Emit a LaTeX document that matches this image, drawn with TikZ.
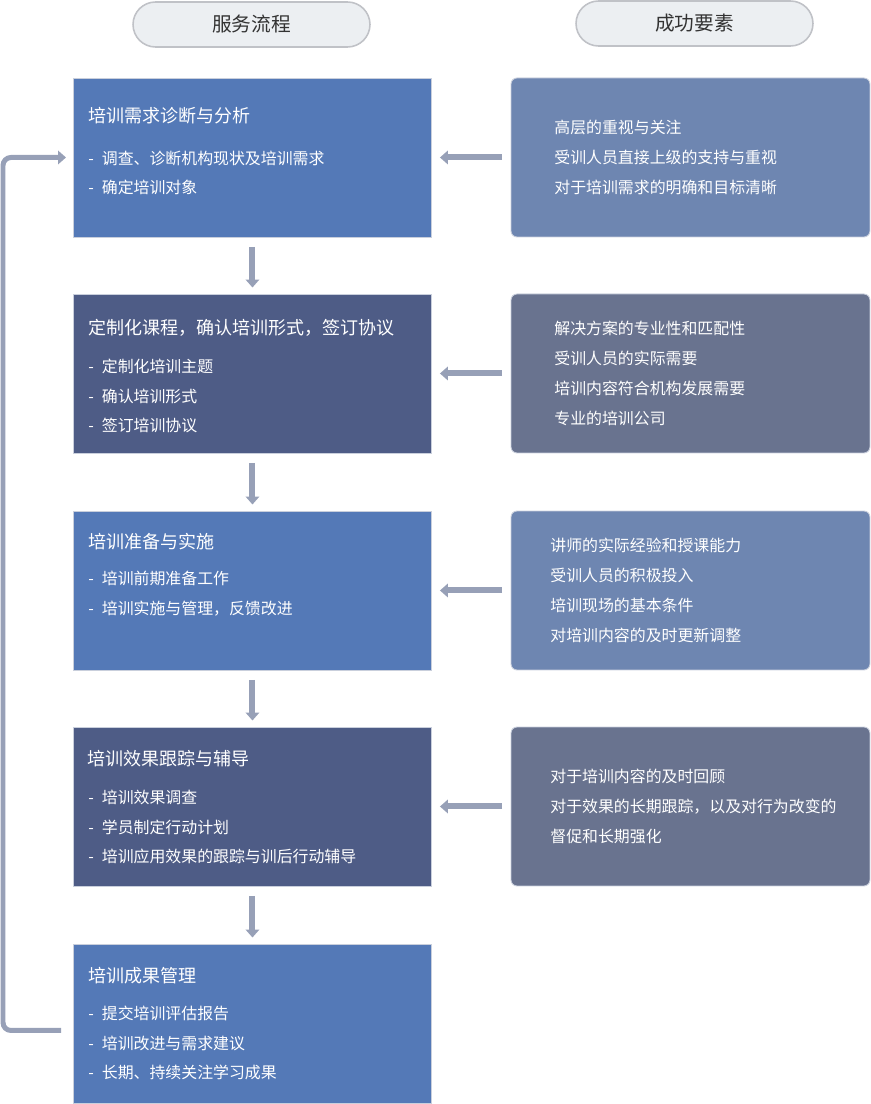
\documentclass[tikz,border=0pt]{standalone}
\usepackage{fontspec}
\newfontfamily\cjk{Noto Sans CJK SC}
\usetikzlibrary{arrows.meta, positioning, calc}
\definecolor{stepblue}{HTML}{5479B7}
\definecolor{stepnavy}{HTML}{4E5C86}
\definecolor{keyblue}{HTML}{6E86B1}
\definecolor{keynavy}{HTML}{69738F}
\definecolor{arrowgray}{HTML}{97A0B7}
\definecolor{edgegray}{HTML}{C9CFDC}
\definecolor{pillfill}{HTML}{ECEFF2}
\definecolor{pilledge}{HTML}{C0C2C7}
\newcommand{\dash}{-\hspace{1.6mm}}

\begin{document}
\begin{tikzpicture}[x=0.02cm, y=-0.02cm,
  box/.style={rectangle, draw=edgegray, line width=0.5pt, minimum width=7.18cm,
    minimum height=3.18cm, inner sep=0pt, outer sep=0pt, anchor=north west},
  keybox/.style={box, rounded corners=0.12cm},
  pill/.style={rectangle, draw=pilledge, fill=pillfill, line width=0.9pt,
    rounded corners=0.45cm, minimum width=4.74cm, minimum height=0.9cm,
    font=\cjk\fontsize{11.2pt}{13pt}\selectfont, text=black!80},
  ttl/.style={anchor=west, inner sep=0pt, text=white, font=\cjk\fontsize{10.25pt}{12pt}\selectfont},
  txt/.style={anchor=west, inner sep=0pt, align=left, text=white,
    font=\cjk\fontsize{9.05pt}{17pt}\selectfont},
  arr/.style={draw=arrowgray, line width=0.12cm, -{Triangle[length=0.16cm,width=0.27cm]}}]
\useasboundingbox (0,0) rectangle (871,1104);

% headers
\node[pill] (hflow) at (251.5,24.5) {\raisebox{-0.5mm}{服务流程}};
\node[pill] (hkey) at (694.5,23.5) {\raisebox{-0.5mm}{成功要素}};

% service steps
\node[box, fill=stepblue] (s1) at (73,78) {};
\node[box, fill=stepnavy] (s2) at (73,294) {};
\node[box, fill=stepblue] (s3) at (73,511) {};
\node[box, fill=stepnavy] (s4) at (73,727) {};
\node[box, fill=stepblue] (s5) at (73,944) {};

\node[ttl] (t1) at (88,116) {培训需求诊断与分析};
\node[txt] (i1) at (88,173) {\dash 调查、诊断机构现状及培训需求\\ \dash 确定培训对象};
\node[ttl] (t2) at (88,328) {定制化课程，确认培训形式，签订协议};
\node[txt] (i2) at (88,396) {\dash 定制化培训主题\\ \dash 确认培训形式\\ \dash 签订培训协议};
\node[ttl] (t3) at (88,542) {培训准备与实施};
\node[txt] (i3) at (88,594) {\dash 培训前期准备工作\\ \dash 培训实施与管理，反馈改进};
\node[ttl] (t4) at (87,759) {培训效果跟踪与辅导};
\node[txt] (i4) at (88,827) {\dash 培训效果调查\\ \dash 学员制定行动计划\\ \dash 培训应用效果的跟踪与训后行动辅导};
\node[ttl] (t5) at (88,976) {培训成果管理};
\node[txt] (i5) at (88,1043) {\dash 提交培训评估报告\\ \dash 培训改进与需求建议\\ \dash 长期、持续关注学习成果};

% success factors
\node[keybox, fill=keyblue] (r1) at (511,78) {};
\node[keybox, fill=keynavy] (r2) at (511,294) {};
\node[keybox, fill=keyblue] (r3) at (511,511) {};
\node[keybox, fill=keynavy] (r4) at (511,727) {};

\node[txt] (k1) at ($(r1.west)+(43,0)$) {高层的重视与关注\\ 受训人员直接上级的支持与重视\\ 对于培训需求的明确和目标清晰};
\node[txt] (k2) at ($(r2.west)+(43,0)$) {解决方案的专业性和匹配性\\ 受训人员的实际需要\\ 培训内容符合机构发展需要\\ 专业的培训公司};
\node[txt] (k3) at ($(r3.west)+(39,0)$) {讲师的实际经验和授课能力\\ 受训人员的积极投入\\ 培训现场的基本条件\\ 对培训内容的及时更新调整};
\node[txt] (k4) at ($(r4.west)+(39,0)$) {对于培训内容的及时回顾\\ 对于效果的长期跟踪，以及对行为改变的\\ 督促和长期强化};

% arrows
\foreach \a/\b in {s1/s2, s2/s3, s3/s4, s4/s5}
  \draw[arr, shorten <=0.2cm, shorten >=0.13cm] (\a.south) -- (\b.north);
\foreach \i in {1,...,4}
  \draw[arr, shorten <=0.18cm, shorten >=0.16cm] (r\i.west) -- (s\i.east);

% feedback loop
\coordinate (back) at ($(s5.west)+(-12,7)$);
\draw[arr, line width=0.1cm, rounded corners=0.16cm, shorten >=0.14cm]
  (back) -| ($(s1.west)+(-70,0)$) -- (s1.west);
\end{tikzpicture}
\end{document}
